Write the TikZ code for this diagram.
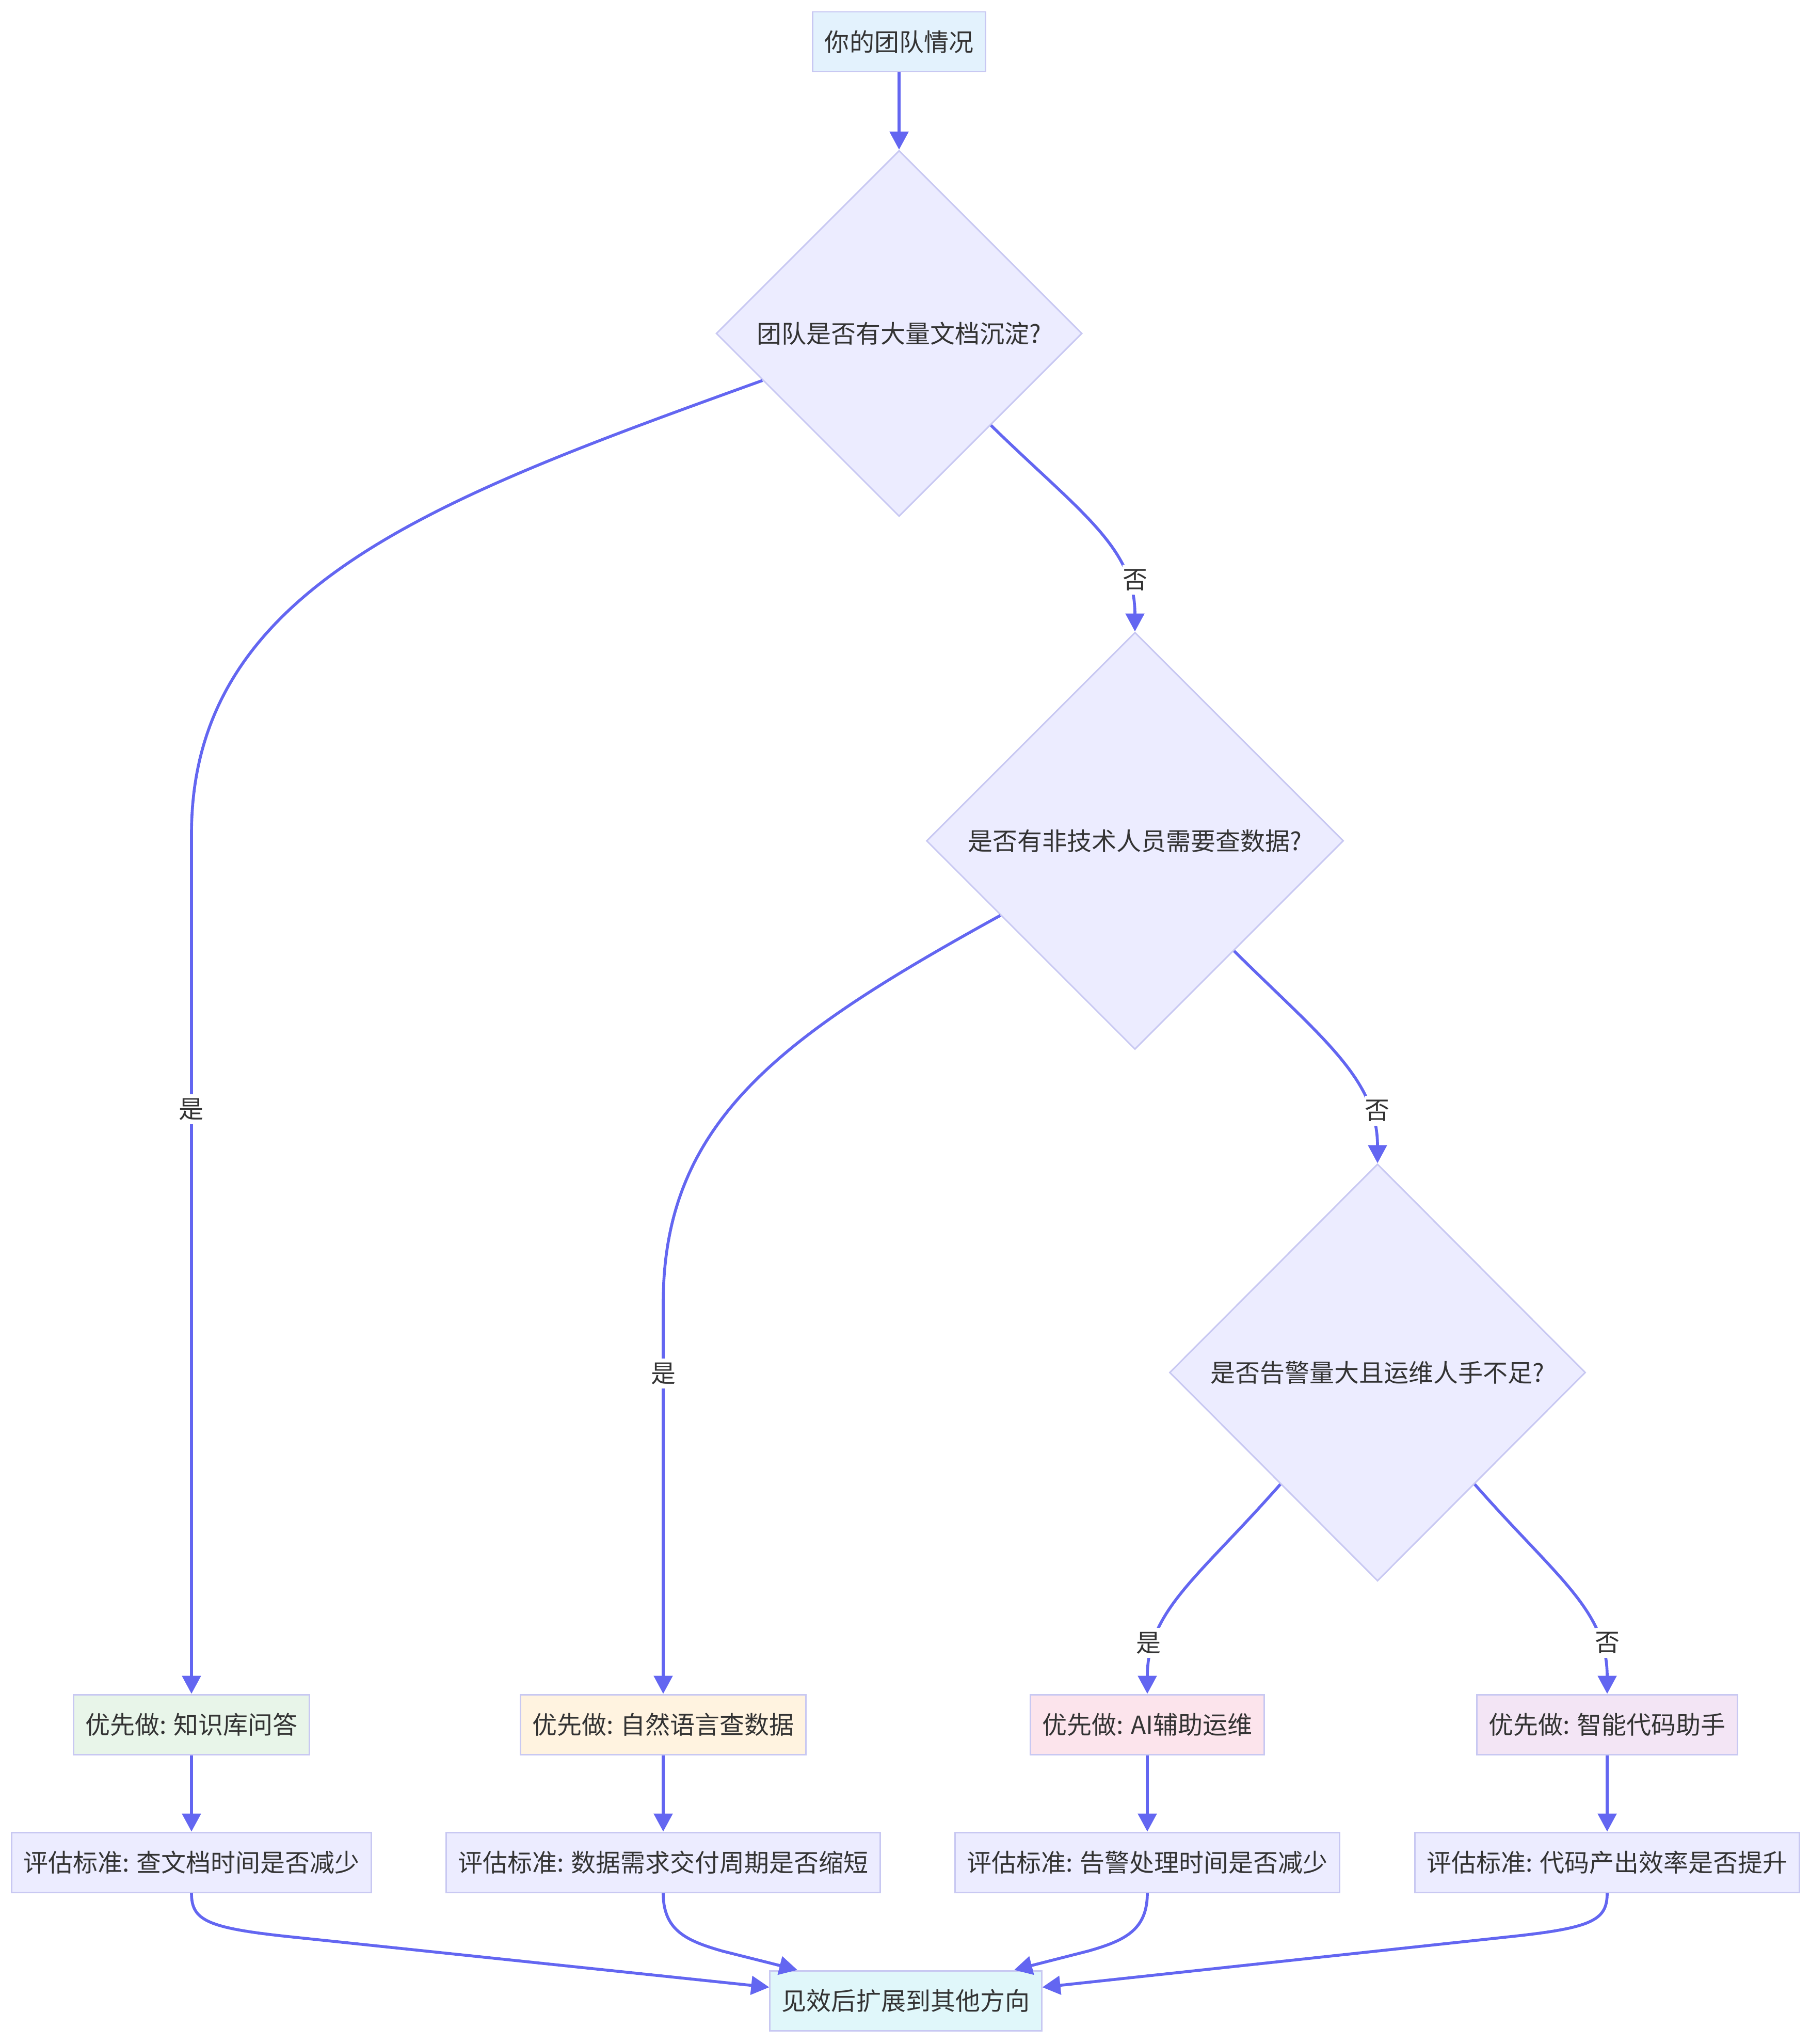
\documentclass[tikz,border=0pt]{standalone}
\usepackage{fontspec}
\setmainfont{Noto Sans CJK SC}
\usetikzlibrary{shapes.geometric,arrows.meta}
\definecolor{flowLine}{HTML}{6366F1}
\definecolor{nodeBorder}{HTML}{C8C8F2}
\definecolor{inkGray}{HTML}{333333}
\definecolor{evalFill}{HTML}{ECECFF}
\definecolor{topFill}{HTML}{E3F2FD}
\definecolor{docFill}{HTML}{E8F5E9}
\definecolor{dataFill}{HTML}{FFF3E0}
\definecolor{opsFill}{HTML}{FCE4EC}
\definecolor{codeFill}{HTML}{F3E5F5}
\definecolor{finFill}{HTML}{E0F7FA}
\begin{document}
\begin{tikzpicture}[
                box/.style={draw=nodeBorder,line width=0.85pt,fill=#1,text=inkGray,
                           font=\fontsize{13.66pt}{16pt}\selectfont,
                           minimum height=1.16cm,inner xsep=0.23cm,inner ysep=0pt},
                box/.default=evalFill,
                decision/.style={diamond,aspect=1,draw=nodeBorder,line width=0.85pt,fill=evalFill,
                                text=inkGray,font=\fontsize{13.66pt}{16pt}\selectfont,inner sep=0.1cm},
                flow/.style={-{Triangle[length=0.35cm,width=0.36cm]},line width=1.6pt,draw=flowLine},
                lbl/.style={fill=white,inner sep=0pt,minimum height=0.58cm,text=inkGray,
                           font=\fontsize{13.66pt}{16pt}\selectfont}
            ]
                \useasboundingbox (0,0) rectangle (35.07,-39.60);
                \node[box=topFill] (top) at (17.42,-0.81) {你的团队情况};
                \node[decision,minimum width=7.09cm,minimum height=7.09cm] (d1) at (17.42,-6.46) {团队是否有大量文档沉淀?};
                \node[decision,minimum width=8.08cm,minimum height=8.08cm] (d2) at (21.99,-16.29) {是否有非技术人员需要查数据?};
                \node[decision,minimum width=8.06cm,minimum height=8.08cm] (d3) at (26.69,-26.59) {是否告警量大且运维人手不足?};
                \node[box=docFill] (pA) at (3.71,-33.41) {优先做: 知识库问答};
                \node[box=dataFill] (pB) at (12.85,-33.41) {优先做: 自然语言查数据};
                \node[box=opsFill] (pC) at (22.23,-33.41) {优先做: AI辅助运维};
                \node[box=codeFill] (pD) at (31.14,-33.41) {优先做: 智能代码助手};
                \node[box] (eA) at (3.71,-36.08) {评估标准: 查文档时间是否减少};
                \node[box] (eB) at (12.85,-36.08) {评估标准: 数据需求交付周期是否缩短};
                \node[box] (eC) at (22.23,-36.08) {评估标准: 告警处理时间是否减少};
                \node[box] (eD) at (31.14,-36.08) {评估标准: 代码产出效率是否提升};
                \node[box=finFill] (fin) at (17.55,-38.76) {见效后扩展到其他方向};
                \draw[flow] (top) -- (d1);
                \draw[flow] (d1.199) .. controls (8.46,-9.65) and (3.71,-11.36) .. (3.71,-16.16) -- node[lbl,pos=0.32] {是} (pA);
                \draw[flow] (d1.315) .. controls (20.90,-9.90) and (21.99,-10.60) .. node[lbl,pos=0.77,xshift=0.17cm] {否} (d2.north);
                \draw[flow] (d2.209) .. controls (15.15,-20.07) and (12.85,-21.71) .. (12.85,-25.25) -- node[lbl,pos=0.18] {是} (pB);
                \draw[flow] (d2.312) .. controls (25.57,-20.07) and (26.69,-20.90) .. node[lbl,pos=0.77,xshift=0.17cm] {否} (d3.north);
                \draw[flow] (d3.229) .. controls (23.22,-30.56) and (22.23,-31.20) .. node[lbl,pos=0.77,xshift=-0.13cm] {是} (pC.north);
                \draw[flow] (d3.311) .. controls (30.16,-30.56) and (31.14,-31.20) .. node[lbl,pos=0.77,xshift=0.16cm] {否} (pD.north);
                \foreach \c in {A,B,C,D}
                    \draw[flow] (p\c) -- (e\c);
                \draw[flow] (eA.south) .. controls (3.71,-37.20) and (4.00,-37.35) .. (5.60,-37.52) -- ([yshift=0.26cm]fin.west);
                \draw[flow] (eB.south) .. controls (12.85,-37.40) and (13.30,-37.60) .. (14.00,-37.80) -- ([xshift=-2.1cm]fin.north);
                \draw[flow] (eC.south) .. controls (22.23,-37.40) and (21.78,-37.60) .. (21.08,-37.80) -- ([xshift=2.1cm]fin.north);
                \draw[flow] (eD.south) .. controls (31.14,-37.20) and (30.86,-37.35) .. (29.26,-37.52) -- ([yshift=0.26cm]fin.east);
            \end{tikzpicture}
\end{document}
